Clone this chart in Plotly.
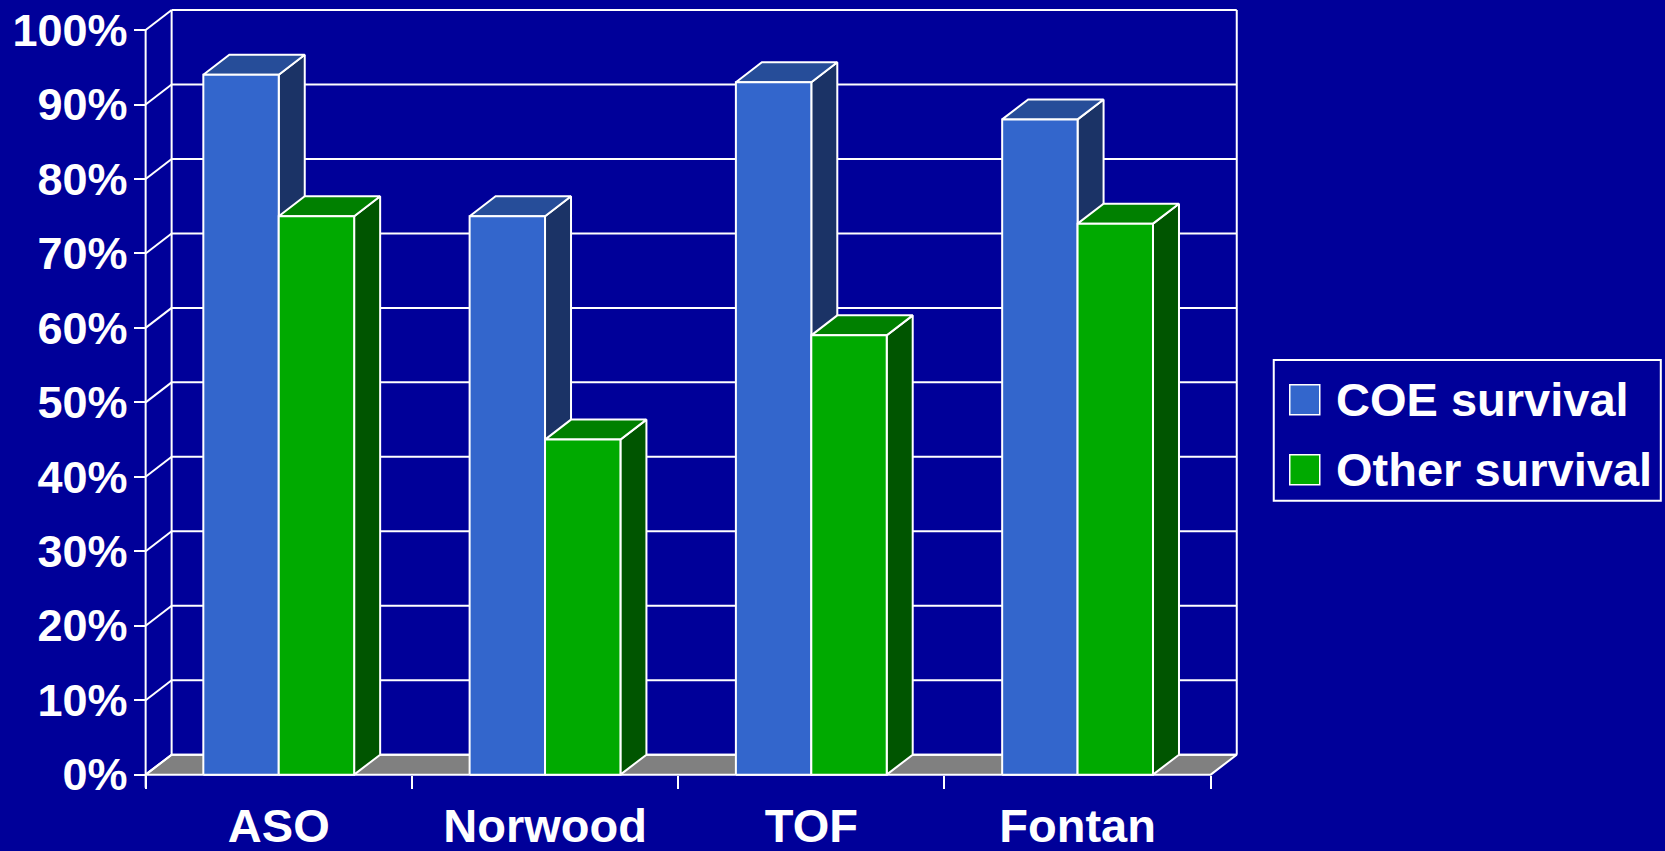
import plotly.graph_objects as go

# ---------------- data ----------------
categories = ["ASO", "Norwood", "TOF", "Fontan"]
coe_survival = [94, 75, 93, 88]
other_survival = [75, 45, 59, 74]
series_names = ["COE survival", "Other survival"]
y_ticks = list(range(0, 101, 10))
y_tick_labels = [f"{v}%" for v in y_ticks]

# ---------------- style / geometry ----------------
W, H = 1665, 851
BG = "#000099"
WHITE = "#FFFFFF"
FLOOR = "#808080"
COLORS = {
    "COE survival": ("#3366CC", "#264D99", "#1B3366"),   # front, top, side
    "Other survival": ("#00AA00", "#008000", "#005500"),
}
FONT = "Liberation Sans, Arial, sans-serif"

X_RANGE = [-0.1, 4.2]
Y_RANGE = [-3, 103.5]
PX_PER_CAT = 266.25
PX_PER_PCT = 7.45
X0_PX = 146.0
Y0_PX = 775.0
DX = 26 / PX_PER_CAT
DY = 20 / PX_PER_PCT
BAR_W = 75.4 / PX_PER_CAT
BAR_START = 57.7 / PX_PER_CAT
LW = 2

ml = X0_PX + X_RANGE[0] * PX_PER_CAT
pw = (X_RANGE[1] - X_RANGE[0]) * PX_PER_CAT
mr = W - ml - pw
mb = H - (Y0_PX - Y_RANGE[0] * PX_PER_PCT)
ph = (Y_RANGE[1] - Y_RANGE[0]) * PX_PER_PCT
mt = H - mb - ph


def px_to_paper_x(px):
    return (px - ml) / pw


def px_to_paper_y(py):
    return (H - mb - py) / ph


fig = go.Figure()


def poly(xs, ys, fill, lw=LW):
    fig.add_trace(go.Scatter(
        x=list(xs) + [xs[0]], y=list(ys) + [ys[0]], mode="lines", fill="toself",
        fillcolor=fill, line=dict(color=WHITE, width=lw),
        hoverinfo="skip", showlegend=False))


def lines(xs, ys, lw=LW):
    fig.add_trace(go.Scatter(
        x=xs, y=ys, mode="lines", line=dict(color=WHITE, width=lw),
        hoverinfo="skip", showlegend=False))


n = len(categories)

# floor
poly([0, n, n + DX, DX], [0, 0, DY, DY], FLOOR)

# back wall gridlines, left wall diagonals, wall edges, front value axis line
gx, gy = [], []
for v in y_ticks:
    gx += [DX, n + DX, None, 0, DX, None]
    gy += [v + DY, v + DY, None, v, v + DY, None]
gx += [DX, DX, None, n + DX, n + DX, None, 0, 0]
gy += [DY, y_ticks[-1] + DY, None, DY, y_ticks[-1] + DY, None, -13 / PX_PER_PCT, y_ticks[-1]]
lines(gx, gy)

# bars (painter's order, left to right)
for ci in range(n):
    for si, (name, vals) in enumerate(zip(series_names, [coe_survival, other_survival])):
        front, top, side = COLORS[name]
        v = vals[ci]
        x0 = ci + BAR_START + si * BAR_W
        x1 = x0 + BAR_W
        poly([x1, x1 + DX, x1 + DX, x1], [0, DY, v + DY, v], side)
        poly([x0, x1, x1 + DX, x0 + DX], [v, v, v + DY, v + DY], top)
        poly([x0, x1, x1, x0], [0, 0, v, v], front)

# ---------------- legend (drawn) ----------------
shapes = [dict(type="rect", xref="paper", yref="paper",
               x0=px_to_paper_x(1274), x1=px_to_paper_x(1661),
               y0=px_to_paper_y(501), y1=px_to_paper_y(360),
               line=dict(color=WHITE, width=2), fillcolor="rgba(0,0,0,0)")]
annotations = []
for i, name in enumerate(series_names):
    cy = 400 + 70 * i
    shapes.append(dict(type="rect", xref="paper", yref="paper",
                       x0=px_to_paper_x(1290), x1=px_to_paper_x(1320),
                       y0=px_to_paper_y(cy + 15), y1=px_to_paper_y(cy - 15),
                       line=dict(color=WHITE, width=1.5), fillcolor=COLORS[name][0]))
    annotations.append(dict(xref="paper", yref="paper", x=px_to_paper_x(1334),
                            y=px_to_paper_y(cy), text=name, showarrow=False,
                            xanchor="left", yanchor="middle",
                            font=dict(family=FONT, size=47, color=WHITE, weight="bold")))

fig.update_layout(
    width=W, height=H,
    margin=dict(l=ml, r=mr, t=mt, b=mb, pad=0, autoexpand=False),
    paper_bgcolor=BG, plot_bgcolor=BG,
    showlegend=False,
    shapes=shapes, annotations=annotations,
    xaxis=dict(range=X_RANGE, anchor="free",
               position=(0 - Y_RANGE[0]) / (Y_RANGE[1] - Y_RANGE[0]),
               tickvals=[i + 0.5 for i in range(n)], ticktext=categories,
               ticks="", showgrid=False, zeroline=False, showline=False,
               tickfont=dict(family=FONT, size=47, color=WHITE, weight="bold"),
               ticklabelstandoff=19,
               minor=dict(tickmode="linear", tick0=0, dtick=1, ticks="outside",
                          ticklen=13, tickwidth=2, tickcolor=WHITE, showgrid=False),
               automargin=False, fixedrange=True),
    yaxis=dict(range=Y_RANGE, anchor="free",
               position=(0 - X_RANGE[0]) / (X_RANGE[1] - X_RANGE[0]),
               tickvals=y_ticks, ticktext=y_tick_labels,
               ticks="outside", ticklen=12, tickwidth=2, tickcolor=WHITE,
               showgrid=False, zeroline=False, showline=False,
               tickfont=dict(family=FONT, size=45, color=WHITE, weight="bold"),
               ticklabelstandoff=-3,
               automargin=False, fixedrange=True),
)

fig.write_html("out.html", config={"displayModeBar": False},
               post_script="document.body.style.margin='0';document.body.style.overflow='hidden';")
